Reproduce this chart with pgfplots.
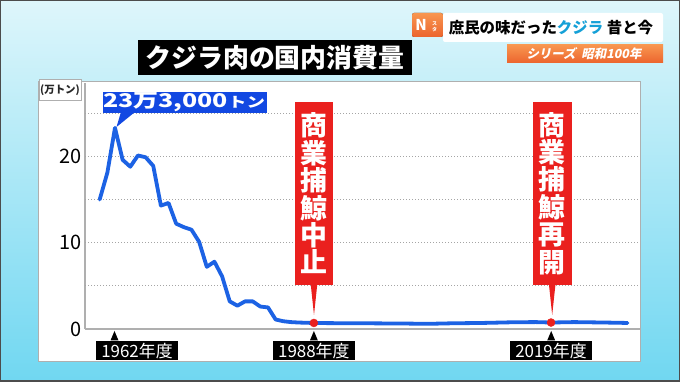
\documentclass[border=0pt]{standalone}
\usepackage{pgfplots}
\pgfplotsset{compat=1.18}
\usepackage{fontspec}
\setmainfont{Noto Sans CJK JP}
\setsansfont{Noto Sans CJK JP}
\newfontfamily\jpf{Noto Sans CJK JP}
\definecolor{lineblue}{RGB}{28,98,228}
\definecolor{callblue}{RGB}{18,72,226}
\definecolor{markred}{RGB}{234,32,30}
\definecolor{axisgray}{RGB}{175,175,175}
\definecolor{gridgray}{RGB}{165,165,165}
\definecolor{bgtop}{RGB}{222,246,251}
\definecolor{bgbot}{RGB}{112,215,241}
\definecolor{orangeA}{RGB}{248,150,80}
\definecolor{orangeB}{RGB}{236,100,45}
\definecolor{kcyan}{RGB}{20,160,215}
\begin{document}
\begin{tikzpicture}
\useasboundingbox (0,0) rectangle (680bp,382bp);
\shade[top color=bgtop, bottom color=bgbot] (0,0) rectangle (680bp,382bp);
\begin{scope}[shift={(0,382bp)},x=1bp,y=-1bp]
  % panel
  \fill[white, draw=axisgray, line width=1bp] (38,82) rectangle (640,362);
  \fill[white, draw=axisgray, line width=0.8bp] (39,79) rectangle (81,100);
  \node[font=\fontsize{10.5}{10.5}\selectfont\bfseries, text=black!85] at (60,90.5) {(万トン)};
  % title
  \fill[black] (138,40) rectangle (412,75);
  \node[text=white, font=\fontsize{26}{26}\selectfont\bfseries] at (275,57.5) {クジラ肉の国内消費量};
  % top right
  \fill[top color=orangeA, bottom color=orangeB, rounded corners=2bp] (412,13) rectangle (443,37);
  \node[text=white, font=\fontsize{15}{15}\selectfont\bfseries] at (421,25) {N};
  \node[text=white, font=\fontsize{5}{5.5}\selectfont\bfseries, align=center] at (434.5,27) {ス\\タ};
  \fill[white, rounded corners=2bp] (443,13) rectangle (663,42);
  \node[font=\fontsize{15.5}{15.5}\selectfont\bfseries, text=black] at (551,27.5) {庶民の味だった{\color{kcyan}クジラ} 昔と今};
  \fill[top color=orangeA, bottom color=orangeB] (507,45) rectangle (663,63);
  \node[text=white, font=\fontsize{12.5}{12.5}\selectfont\bfseries, xslant=0.2] at (585,54) {シリーズ\ \ 昭和100年};
\end{scope}
\begin{axis}[
  at={(85bp,53bp)}, anchor=south west,
  scale only axis, width=555bp, height=246bp,
  xmin=1958.08, xmax=2030.63, ymin=0, ymax=28.5,
  axis x line*=bottom, axis y line*=left,
  axis line style={draw=axisgray, line width=1.2bp},
  major tick length=0pt, tick style={draw=none},
  xtick={1988,2019}, xticklabels={\mbox{\jpf 1988年度},\mbox{\jpf 2019年度}},
  extra x ticks={1962}, extra x tick labels={\mbox{\jpf 1962年度}},
  extra x tick style={xticklabel style={xshift=22bp}},
  xticklabel style={font=\jpf\fontsize{17}{17}\selectfont, fill=black, text=white, inner sep=0pt,
     minimum width=81.5bp, minimum height=19.5bp, anchor=north, yshift=-11.7bp},
  ytick={0,10,20},
  extra y ticks={5,10,15,20,25}, extra y tick labels={},
  extra y tick style={grid=major},
  grid style={draw=gridgray, line width=1bp, dash pattern=on 1bp off 2bp},
  yticklabel style={font=\fontsize{20}{20}\selectfont, text=black},
  /pgf/number format/assume math mode=true,
  clip=false,
]
\addplot[lineblue, line width=3.8bp, line join=round, line cap=round] coordinates {
(1960,15.0)(1961,18.1)(1962,23.3)(1963,19.6)(1964,18.8)(1965,20.1)(1966,19.9)
(1967,18.9)(1968,14.3)(1969,14.6)(1970,12.2)(1971,11.8)(1972,11.5)(1973,10.1)
(1974,7.2)(1975,7.8)(1976,6.1)(1977,3.2)(1978,2.7)(1979,3.2)(1980,3.2)(1981,2.6)
(1982,2.5)(1983,1.1)(1984,0.9)(1985,0.8)(1986,0.75)(1987,0.72)(1988,0.7)
(1990,0.68)(1995,0.66)(2000,0.63)(2003,0.6)(2006,0.66)(2010,0.7)(2014,0.78)
(2017,0.8)(2019,0.75)(2022,0.8)(2026,0.75)(2029,0.7)
};
\addplot[only marks, mark=*, mark size=4bp, mark options={fill=markred, draw=markred}] coordinates {(1988,0.7)(2019,0.75)};
\end{axis}
\begin{scope}[shift={(0,382bp)},x=1bp,y=-1bp]
  % tick triangles
  \foreach \xx in {114.5,313.9,551.2} {\fill[black] (\xx,331) -- (\xx+4,340.5) -- (\xx-4,340.5) -- cycle;}
  % callout
  \fill[callblue] (103,92) rectangle (267,113);
  \fill[callblue] (121,112) -- (135,112) -- (116.5,127) -- cycle;
  \node[text=white, inner sep=0pt] at (184,102.5) {\scalebox{1.32}[1]{\fontsize{19}{19}\selectfont\bfseries 23万3,000{\fontsize{14}{14}\selectfont トン}}};
  % red labels
  \fill[markred] (295,101.7) rectangle (333.3,285);
  \fill[markred] (310.7,284) -- (317.3,284) -- (314,315) -- cycle;
  \node[text=white, font=\fontsize{27}{27.5}\selectfont\bfseries, align=center, inner sep=0pt] at (314.2,193.4) {商\\業\\捕\\鯨\\中\\止};
  \fill[markred] (532.7,101.7) rectangle (571.7,285);
  \fill[markred] (548.9,284) -- (555.5,284) -- (552.2,315) -- cycle;
  \node[text=white, font=\fontsize{27}{27.5}\selectfont\bfseries, align=center, inner sep=0pt] at (552.2,193.4) {商\\業\\捕\\鯨\\再\\開};
  \draw[black!70, line width=1.5bp] (0.75,0.75) rectangle (679.25,381.25);
\end{scope}
\end{tikzpicture}
\end{document}
